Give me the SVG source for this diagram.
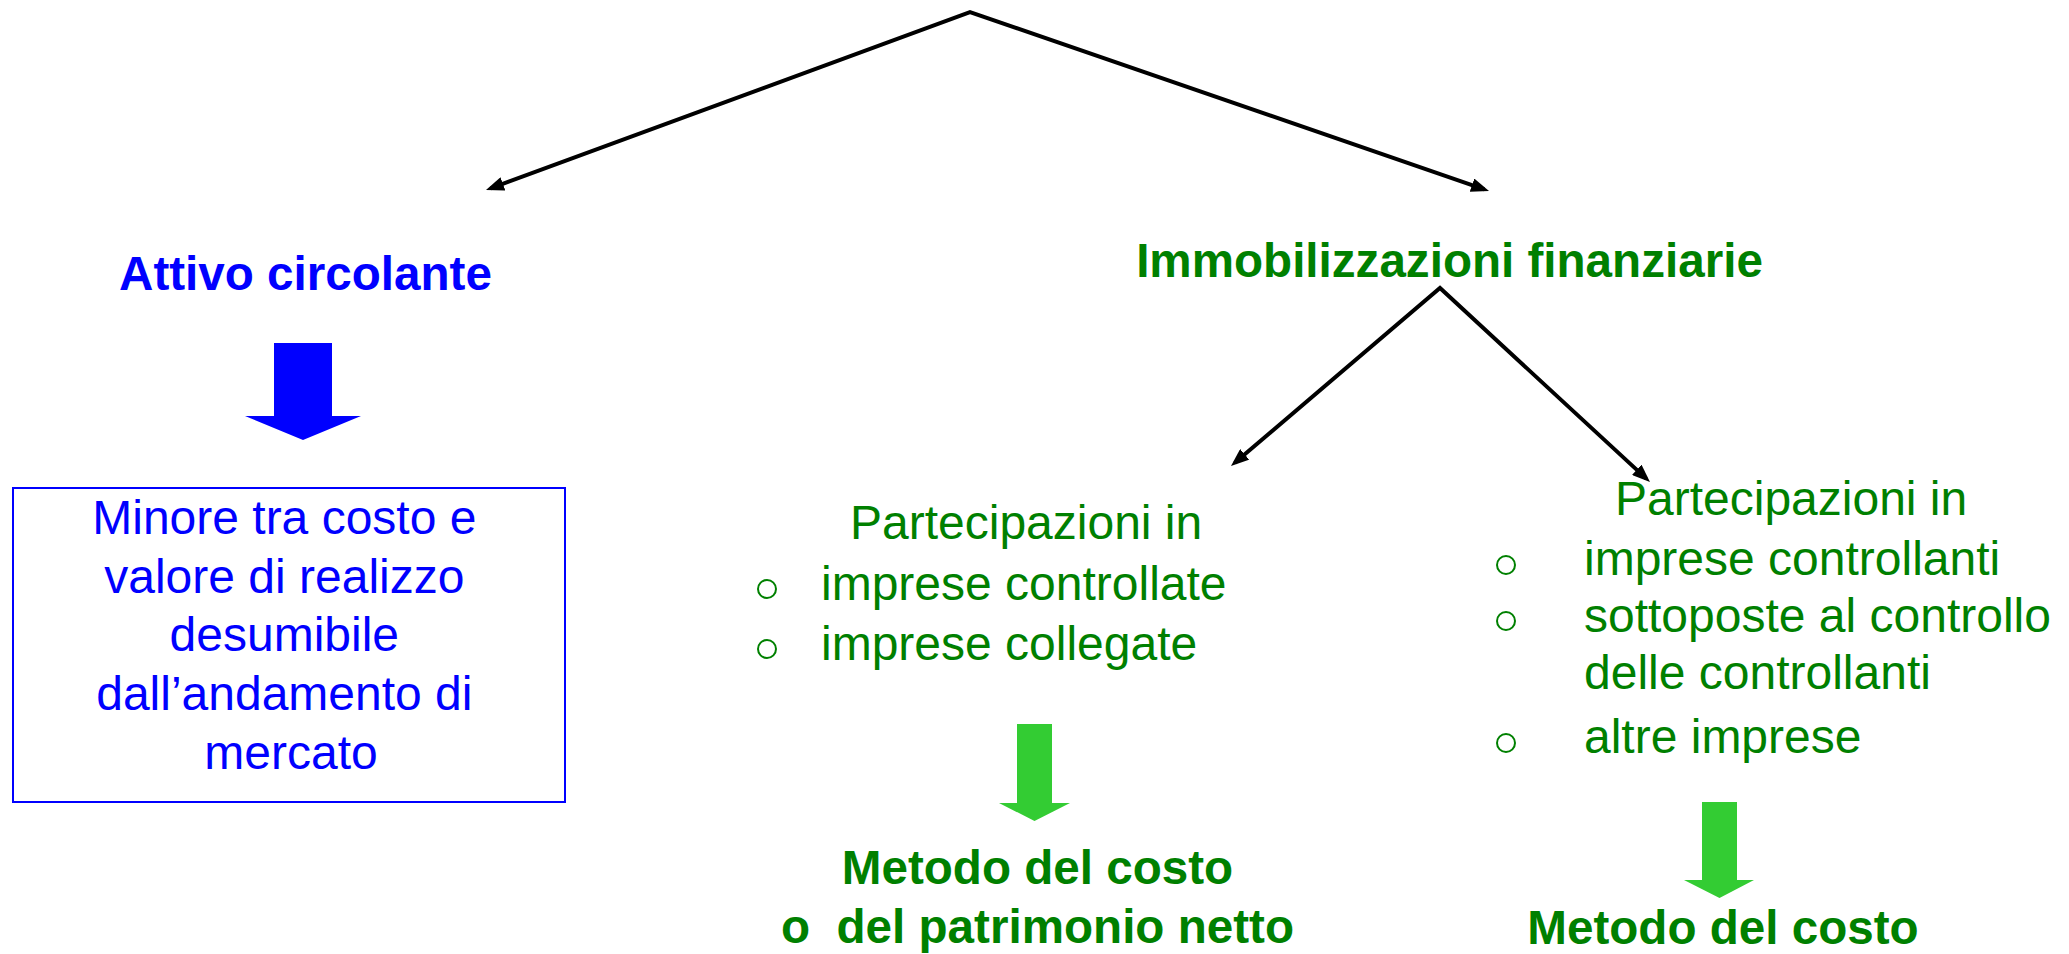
<svg xmlns="http://www.w3.org/2000/svg" width="2069" height="954" viewBox="0 0 2069 954">
  <style>
    .t { font-family: "Liberation Sans", Arial, sans-serif; }
    .reg { font-size: 48px; font-weight: normal; }
    .bold { font-size: 47.6px; font-weight: bold; }
    .blue { fill: #0000FF; }
    .green { fill: #008000; }
    .conn { fill: none; stroke: #000000; stroke-width: 4; stroke-linejoin: miter; stroke-miterlimit: 20; }
    .bullet { fill: none; stroke: #008000; stroke-width: 2; }
    .garrow { fill: #33CC33; }
    .barrow { fill: #0000FF; }
  </style>
  <defs>
    <marker id="ah" markerUnits="userSpaceOnUse" markerWidth="18" markerHeight="14" viewBox="0 0 18 14" refX="13" refY="7" orient="auto-start-reverse">
      <path d="M0,0 L18,7 L0,14 z" fill="#000000"/>
    </marker>
  </defs>
  <rect width="2069" height="954" fill="#FFFFFF"/>

  <g id="connectors">
    <path class="conn" d="M490.7,188.3 L970,12 L1484.3,189.4" marker-start="url(#ah)" marker-end="url(#ah)"/>
    <path class="conn" d="M1234.8,462.8 L1440,288 L1646.3,478.6" marker-start="url(#ah)" marker-end="url(#ah)"/>
    <polygon class="barrow" points="274,343 332,343 332,416 361,416 303,440 245,416 274,416"/>
    <polygon class="garrow" points="1017,724 1052,724 1052,803 1070,803 1034.5,821 999,803 1017,803"/>
    <polygon class="garrow" points="1702,802 1737,802 1737,880 1754,880 1719.5,898 1684,880 1702,880"/>
  </g>

  <g id="attivo-circolante">
    <text class="t bold blue" x="305.5" y="290" text-anchor="middle">Attivo circolante</text>
  </g>

  <g id="minore-costo">
    <rect x="13" y="488" width="552" height="314" fill="none" stroke="#0000FF" stroke-width="2"/>
    <text class="t reg blue" text-anchor="middle">
      <tspan x="291" y="534">Minore tra costo e</tspan>
      <tspan x="291" y="592.7">valore di realizzo</tspan>
      <tspan x="291" y="651.4">desumibile</tspan>
      <tspan x="291" y="710.1">dall’andamento di</tspan>
      <tspan x="291" y="768.8">mercato</tspan>
    </text>
  </g>

  <g id="immobilizzazioni">
    <text class="t bold green" x="1449.5" y="277" text-anchor="middle">Immobilizzazioni finanziarie</text>
  </g>

  <g id="partecipazioni-1">
    <text class="t reg green" x="850" y="539">Partecipazioni in</text>
    <circle class="bullet" cx="767" cy="589" r="9"/>
    <text class="t reg green" x="821" y="600">imprese controllate</text>
    <circle class="bullet" cx="767" cy="649" r="9"/>
    <text class="t reg green" x="821" y="660">imprese collegate</text>
  </g>

  <g id="metodo-1">
    <text class="t bold green" x="1037.5" y="884" text-anchor="middle">Metodo del costo</text>
    <text class="t bold green" x="1037.5" y="943" text-anchor="middle" xml:space="preserve">o  del patrimonio netto</text>
  </g>

  <g id="partecipazioni-2">
    <text class="t reg green" x="1615" y="515">Partecipazioni in</text>
    <circle class="bullet" cx="1506" cy="565" r="9"/>
    <text class="t reg green" x="1584" y="575">imprese controllanti</text>
    <circle class="bullet" cx="1506" cy="621" r="9"/>
    <text class="t reg green" x="1584" y="632">sottoposte al controllo</text>
    <text class="t reg green" x="1584" y="689">delle controllanti</text>
    <circle class="bullet" cx="1506" cy="743" r="9"/>
    <text class="t reg green" x="1584" y="753">altre imprese</text>
  </g>

  <g id="metodo-2">
    <text class="t bold green" x="1723" y="944" text-anchor="middle">Metodo del costo</text>
  </g>
</svg>
